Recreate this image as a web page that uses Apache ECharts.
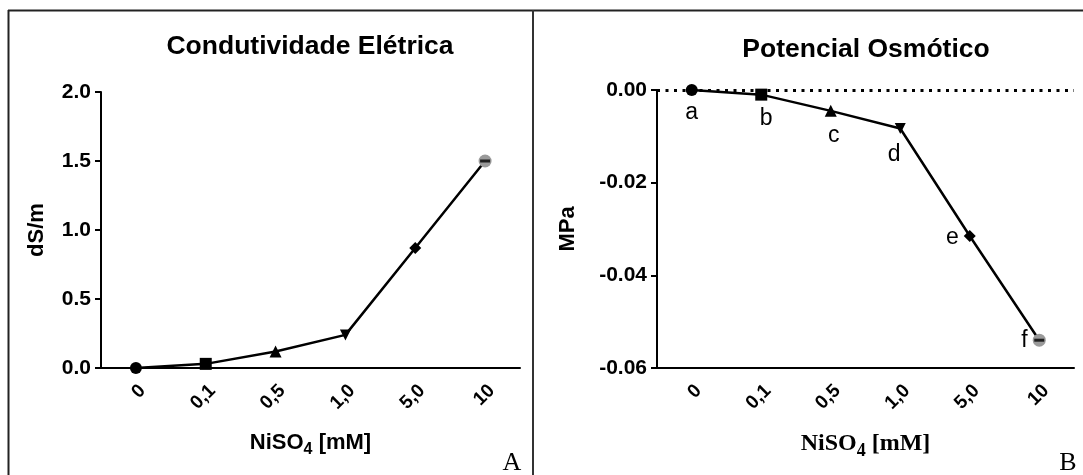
<!DOCTYPE html>
<html>
<head>
<meta charset="utf-8">
<script src="https://cdn.jsdelivr.net/npm/echarts@6/dist/echarts.min.js"></script>
<style>
html, body { margin: 0; padding: 0; background: #fff; }
#chart { width: 1083px; height: 475px; }
</style>
</head>
<body>
<div id="chart"></div>
<script>
// values
const categories = ['0', '0,1', '0,5', '1,0', '5,0', '10']
const conductivity = [0.0, 0.03, 0.12, 0.24, 0.87, 1.50]
const osmotic = [0.0, -0.0010, -0.0045, -0.0083, -0.0315, -0.0540]
const letters = ['a', 'b', 'c', 'd', 'e', 'f']
const yTicksA = { min: 0, max: 2, interval: 0.5 }
const yTicksB = { min: -0.06, max: 0, interval: 0.02 }

const SANS = 'Liberation Sans, Arial, sans-serif'
const SERIF = 'Liberation Serif, Times New Roman, serif'
const symbols = ['circle', 'rect', 'triangle', 'path://M0,0L10,0L5,10Z', 'diamond', 'circle']
const symbolSizes = [12, 12, 12, 11, 12, 13]

function markerData(values) {
  return values.map((v, i) => ({
    value: v,
    symbol: symbols[i],
    symbolSize: symbolSizes[i],
    itemStyle: { color: i === 5 ? '#9a9a9a' : '#000' }
  }))
}

function capData(values) {
  // small black error cap drawn over the last (grey) marker
  return values.map((v, i) => (i === values.length - 1 ? v : null))
}

function xAxisFor(gridIndex, serifName) {
  const base = serifName
    ? { fontFamily: SERIF, fontWeight: 'bold', color: '#000' }
    : { fontFamily: SANS, fontWeight: 'bold', color: '#000' }
  const big = serifName ? 24 : 22
  return {
    type: 'category',
    gridIndex,
    data: categories,
    boundaryGap: true,
    axisLine: { onZero: false, lineStyle: { color: '#000', width: 2 } },
    axisTick: { alignWithLabel: true, length: 6, lineStyle: { color: '#000', width: 2 } },
    axisLabel: {
      rotate: 45, color: '#000', fontWeight: 'bold', fontSize: 19,
      fontFamily: SANS, margin: 13, interval: 0, verticalAlign: 'top'
    },
    splitLine: { show: false },
    name: '{m|NiSO}{s|4}{m| [mM]}',
    nameLocation: 'middle',
    nameGap: 64,
    nameTextStyle: {
      rich: {
        m: { ...base, fontSize: big, lineHeight: 26, verticalAlign: 'top' },
        s: { ...base, fontSize: big - 6, lineHeight: 26, verticalAlign: 'top', padding: [10, 0, 0, 0] }
      }
    }
  }
}

function yAxisFor(gridIndex, ticks, digits, name, nameGap) {
  return {
    type: 'value',
    gridIndex,
    min: ticks.min,
    max: ticks.max,
    interval: ticks.interval,
    axisLine: { show: true, lineStyle: { color: '#000', width: 2 } },
    axisTick: { show: true, length: 6, lineStyle: { color: '#000', width: 2 } },
    splitLine: { show: false },
    axisLabel: {
      color: '#000', fontWeight: 'bold', fontSize: 21, fontFamily: SANS, margin: 10,
      formatter: v => (Math.abs(v) < 1e-9 ? 0 : v).toFixed(digits)
    },
    name,
    nameLocation: 'middle',
    nameGap,
    nameTextStyle: { color: '#000', fontWeight: 'bold', fontSize: 22, fontFamily: SANS }
  }
}

const letterPos = ['bottom', 'bottom', 'bottom', 'bottom', 'left', 'left']
const letterOffset = [[0, 0], [5, 2], [3, 2], [-6, 4], [0, 2], [0, 0]]

const chart = echarts.init(document.getElementById('chart'), null, { renderer: 'canvas' })

chart.setOption({
  animation: false,
  backgroundColor: '#fff',
  grid: [
    { left: 101, top: 92, width: 419, height: 276 },
    { left: 657, top: 90, width: 417, height: 278 }
  ],
  xAxis: [xAxisFor(0, false), xAxisFor(1, true)],
  yAxis: [
    yAxisFor(0, yTicksA, 1, 'dS/m', 53),
    yAxisFor(1, yTicksB, 2, 'MPa', 78)
  ],
  series: [
    {
      type: 'line', xAxisIndex: 0, yAxisIndex: 0,
      data: markerData(conductivity),
      lineStyle: { color: '#000', width: 2.5 },
      z: 3
    },
    {
      type: 'scatter', xAxisIndex: 0, yAxisIndex: 0,
      data: capData(conductivity),
      symbol: 'rect', symbolSize: [10, 3], itemStyle: { color: '#000' }, z: 4
    },
    {
      type: 'line', xAxisIndex: 1, yAxisIndex: 1,
      data: markerData(osmotic).map((d, i) => ({
        ...d,
        label: {
          show: true,
          formatter: letters[i],
          position: letterPos[i],
          offset: letterOffset[i],
          distance: 5,
          color: '#000',
          fontSize: 23,
          fontFamily: SANS
        }
      })),
      lineStyle: { color: '#000', width: 2.5 },
      markLine: {
        silent: true,
        symbol: 'none',
        label: { show: false },
        lineStyle: { color: '#000', width: 3, type: [3, 5.5] },
        data: [{ yAxis: 0 }]
      },
      z: 3
    },
    {
      type: 'scatter', xAxisIndex: 1, yAxisIndex: 1,
      data: capData(osmotic),
      symbol: 'rect', symbolSize: [10, 3], itemStyle: { color: '#000' }, z: 4
    }
  ],
  graphic: [
    // panel frame
    { type: 'line', shape: { x1: 8, y1: 10.5, x2: 1083, y2: 10.5 }, style: { stroke: '#222', lineWidth: 2 } },
    { type: 'line', shape: { x1: 8.5, y1: 10, x2: 8.5, y2: 475 }, style: { stroke: '#222', lineWidth: 2 } },
    { type: 'line', shape: { x1: 533, y1: 10, x2: 533, y2: 475 }, style: { stroke: '#333', lineWidth: 2 } },
    // titles
    {
      type: 'text', x: 310, y: 47,
      style: { text: 'Condutividade Elétrica', textAlign: 'center', textVerticalAlign: 'middle',
        font: 'bold 26.5px ' + SANS, fill: '#000' }
    },
    {
      type: 'text', x: 866, y: 50,
      style: { text: 'Potencial Osmótico', textAlign: 'center', textVerticalAlign: 'middle',
        font: 'bold 26.5px ' + SANS, fill: '#000' }
    },
    // panel letters
    {
      type: 'text', x: 512, y: 463,
      style: { text: 'A', textAlign: 'center', textVerticalAlign: 'middle', font: '26px ' + SERIF, fill: '#000' }
    },
    {
      type: 'text', x: 1068, y: 463,
      style: { text: 'B', textAlign: 'center', textVerticalAlign: 'middle', font: '26px ' + SERIF, fill: '#000' }
    }
  ]
})
</script>
</body>
</html>
